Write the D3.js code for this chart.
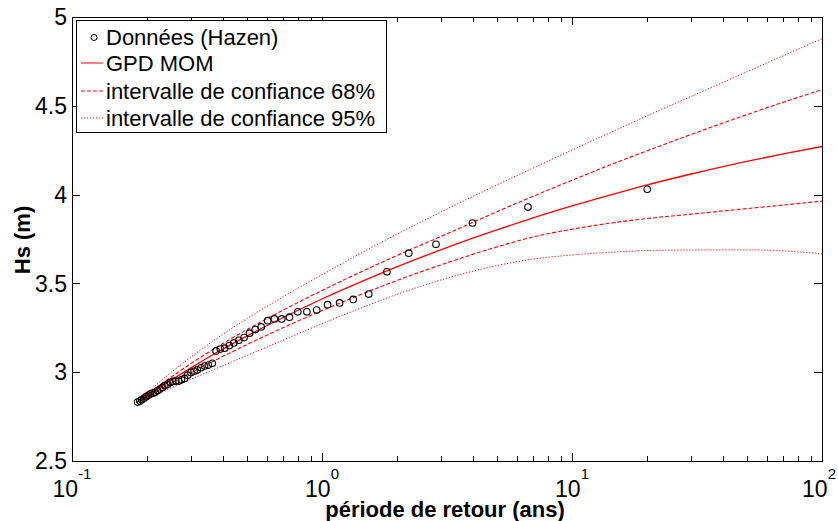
<!DOCTYPE html>
<html>
<head>
<meta charset="utf-8">
<script src="https://cdn.jsdelivr.net/npm/d3@7"></script>
<style>
  html, body { margin: 0; padding: 0; background: #fff; }
  svg text { font-family: Arial, "Liberation Sans", Helvetica, sans-serif; fill: #000; }
</style>
</head>
<body>
<svg id="chart" width="838" height="521"></svg>
<script>
// Return periods (years) of the ranked storm peaks, Hazen plotting positions
const periods = [20, 6.667, 4, 2.857, 2.222, 1.818, 1.538, 1.333, 1.176, 1.053,
  0.952, 0.870, 0.800, 0.741, 0.690, 0.645, 0.606, 0.571, 0.541, 0.513,
  0.488, 0.465, 0.444, 0.426, 0.408, 0.392, 0.377, 0.364, 0.351, 0.339,
  0.328, 0.317, 0.308, 0.299, 0.290, 0.282, 0.274, 0.267, 0.260, 0.253,
  0.247, 0.241, 0.235, 0.230, 0.225, 0.220, 0.215, 0.211, 0.206, 0.202,
  0.198, 0.194, 0.190, 0.187, 0.183];
// Significant wave height of each peak (m)
const hsObserved = [4.03, 3.93, 3.84, 3.72, 3.67, 3.565, 3.44, 3.41, 3.39, 3.38,
  3.35, 3.34, 3.34, 3.31, 3.30, 3.30, 3.29, 3.255, 3.24, 3.22,
  3.195, 3.18, 3.165, 3.15, 3.135, 3.13, 3.12, 3.05, 3.04, 3.035,
  3.025, 3.013, 3.005, 2.998, 2.983, 2.965, 2.957, 2.95, 2.95, 2.948,
  2.942, 2.932, 2.925, 2.914, 2.905, 2.897, 2.887, 2.882, 2.878, 2.87,
  2.862, 2.853, 2.845, 2.838, 2.832];

// Return periods at which the fitted law and its bounds are tabulated
const curvePeriods = [0.1818, 0.2, 0.25, 0.3, 0.4, 0.5, 0.7, 1, 1.5, 2, 3, 5, 7, 10, 15, 20, 30, 50, 70, 100];
const gpdMom  = [2.83, 2.869, 2.957, 3.026, 3.129, 3.203, 3.308, 3.412, 3.521, 3.594, 3.690, 3.801, 3.869, 3.936, 4.007, 4.055, 4.116, 4.187, 4.229, 4.271];
const upper68 = [2.83, 2.876, 2.974, 3.050, 3.160, 3.239, 3.350, 3.460, 3.578, 3.658, 3.765, 3.903, 3.991, 4.081, 4.180, 4.247, 4.339, 4.450, 4.520, 4.591];
const lower68 = [2.83, 2.863, 2.939, 2.998, 3.088, 3.155, 3.251, 3.347, 3.449, 3.517, 3.605, 3.705, 3.762, 3.805, 3.844, 3.865, 3.890, 3.921, 3.941, 3.963];
const upper95 = [2.83, 2.884, 3.000, 3.087, 3.212, 3.301, 3.425, 3.549, 3.686, 3.778, 3.903, 4.054, 4.150, 4.251, 4.364, 4.444, 4.553, 4.691, 4.782, 4.878];
const lower95 = [2.83, 2.855, 2.913, 2.961, 3.036, 3.094, 3.181, 3.273, 3.373, 3.439, 3.520, 3.600, 3.637, 3.660, 3.677, 3.685, 3.688, 3.689, 3.683, 3.667];

const xDecades = [0.1, 1, 10, 100];
const xExponents = ["-1", "0", "1", "2"];
const yTicks = [2.5, 3, 3.5, 4, 4.5, 5];
const yTickLabels = ["2.5", "3", "3.5", "4", "4.5", "5"];

const legendLabels = ["Données (Hazen)", "GPD MOM", "intervalle de confiance 68%", "intervalle de confiance 95%"];
const xTitle = "période de retour (ans)";
const yTitle = "Hs (m)";

const W = 838;
const svg = d3.select("#chart");
const m = { left: 72, right: 822, top: 17, bottom: 461 };

const x = d3.scaleLog().domain([0.1, 100]).range([m.left, m.right]);
const y = d3.scaleLinear().domain([2.5, 5]).range([m.bottom, m.top]);

svg.append("defs").append("clipPath").attr("id", "plotClip")
  .append("rect").attr("x", m.left).attr("y", m.top)
  .attr("width", m.right - m.left).attr("height", m.bottom - m.top);

// Minor ticks of the log axis: 2..9 in each decade
const minorTicks = [];
xDecades.slice(0, 3).forEach(d => { for (let k = 2; k <= 9; k++) minorTicks.push(d * k); });

const majorLen = 8, minorLen = 5;
const axes = svg.append("g").attr("shape-rendering", "crispEdges");
const tick = (x1, y1, x2, y2) => axes.append("line")
  .attr("x1", x1).attr("y1", y1).attr("x2", x2).attr("y2", y2)
  .attr("stroke", "#000").attr("stroke-width", 1);

// bottom and top axes (ticks point inward)
[[m.bottom, -1], [m.top, 1]].forEach(([yy, dir]) => {
  minorTicks.forEach(t => { const px = Math.round(x(t)) + 0.5; tick(px, yy, px, yy + dir * minorLen); });
  xDecades.forEach(t => { const px = Math.round(x(t)) + 0.5; tick(px, yy, px, yy + dir * majorLen); });
});
// left and right axes
[[m.left, 1], [m.right, -1]].forEach(([xx, dir]) => {
  yTicks.forEach(v => { const py = Math.round(y(v)) + 0.5; tick(xx, py, xx + dir * majorLen, py); });
});
// frame
axes.append("rect").attr("x", m.left + 0.5).attr("y", m.top + 0.5)
  .attr("width", m.right - m.left).attr("height", m.bottom - m.top)
  .attr("fill", "none").attr("stroke", "#000").attr("stroke-width", 1);

// y tick labels
svg.append("g").selectAll("text").data(yTicks).enter().append("text")
  .attr("x", m.left - 5).attr("y", d => y(d)).attr("dy", "0.36em")
  .attr("text-anchor", "end").attr("font-size", 23)
  .text((d, i) => yTickLabels[i]);

// x tick labels: "10" with a raised exponent, centred on the tick, kept inside the page
const xl = svg.append("g").selectAll("text").data(xDecades).enter().append("text")
  .attr("x", d => x(d)).attr("y", 497).attr("text-anchor", "middle").attr("font-size", 23);
xl.append("tspan").text("10");
xl.append("tspan").attr("dy", -18).attr("font-size", 15).text((d, i) => xExponents[i]);
xl.each(function (d) {
  const w = this.getComputedTextLength();
  const right = x(d) + w / 2;
  if (right > W - 2) d3.select(this).attr("x", W - 2 - w / 2);
});

// axis titles
svg.append("text").attr("x", 445).attr("y", 517).attr("text-anchor", "middle")
  .attr("font-size", 22).attr("font-weight", "bold").text(xTitle);
svg.append("text").attr("transform", "translate(30,240) rotate(-90)")
  .attr("text-anchor", "middle").attr("font-size", 22).attr("font-weight", "bold").text(yTitle);

// fitted law and confidence bounds
const plot = svg.append("g").attr("clip-path", "url(#plotClip)");
const line = d3.line().x(d => x(d[0])).y(d => y(d[1])).curve(d3.curveMonotoneX);
const series = [
  { values: upper95, dash: "1.2,1.8", width: 1 },
  { values: lower95, dash: "1.2,1.8", width: 1 },
  { values: upper68, dash: "4,2", width: 1.1 },
  { values: lower68, dash: "4,2", width: 1.1 },
  { values: gpdMom, dash: null, width: 1.3 }
];
series.forEach(s => {
  plot.append("path")
    .datum(curvePeriods.map((t, i) => [t, s.values[i]]))
    .attr("d", line).attr("fill", "none").attr("stroke", "#ff0000")
    .attr("stroke-width", s.width).attr("stroke-dasharray", s.dash);
});

// observed peaks
plot.append("g").selectAll("circle").data(periods).enter().append("circle")
  .attr("cx", d => x(d)).attr("cy", (d, i) => y(hsObserved[i])).attr("r", 3.3)
  .attr("fill", "none").attr("stroke", "#000").attr("stroke-width", 1.1);

// legend
const lg = svg.append("g");
lg.append("rect").attr("x", 76.5).attr("y", 20.5).attr("width", 310).attr("height", 112)
  .attr("fill", "#fff").attr("stroke", "#000").attr("stroke-width", 1).attr("shape-rendering", "crispEdges");
const rowY = [37.5, 63, 91, 118];
lg.append("circle").attr("cx", 94).attr("cy", rowY[0]).attr("r", 3).attr("fill", "none").attr("stroke", "#000");
const legDash = [null, "4,2", "1.2,1.8"];
legDash.forEach((dsh, i) => {
  lg.append("line").attr("x1", 81).attr("x2", 103).attr("y1", rowY[i + 1]).attr("y2", rowY[i + 1])
    .attr("stroke", "#ff0000").attr("stroke-width", 1).attr("stroke-dasharray", dsh);
});
lg.selectAll("text").data(legendLabels).enter().append("text")
  .attr("x", 106).attr("y", (d, i) => rowY[i]).attr("dy", "0.36em")
  .attr("font-size", 22).text(d => d);
</script>
</body>
</html>
